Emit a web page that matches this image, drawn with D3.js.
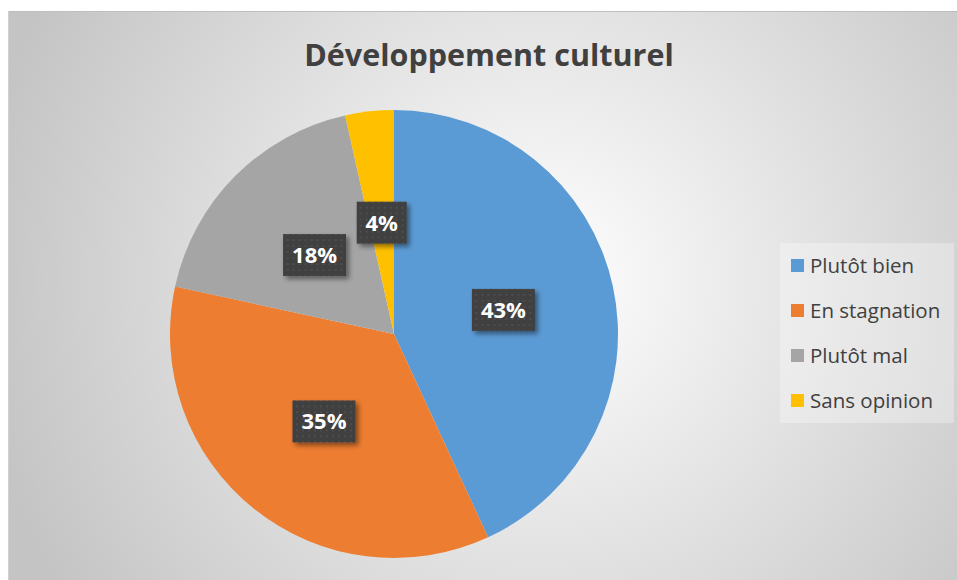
<!DOCTYPE html>
<html><head><meta charset="utf-8">
<script src="https://cdn.jsdelivr.net/npm/d3@7"></script>
<style>html,body{margin:0;padding:0;background:#fff;}svg{display:block;}</style>
</head><body>
<svg id="c" width="957" height="580"></svg>
<script>
const title = "Développement culturel";
const categories = ["Plutôt bien", "En stagnation", "Plutôt mal", "Sans opinion"];
const values = [43.1, 35.3, 18.1, 3.5];
const colors = ["#5B9BD5", "#ED7D31", "#A5A5A5", "#FFC000"];

const svg = d3.select("#c");
const defs = svg.append("defs");

const rg = defs.append("radialGradient").attr("id","bg")
  .attr("gradientUnits","userSpaceOnUse").attr("cx",540).attr("cy",280).attr("r",570);
rg.append("stop").attr("offset","0%").attr("stop-color","#ffffff");
rg.append("stop").attr("offset","100%").attr("stop-color","#c4c4c4");

const pat = defs.append("pattern").attr("id","dots").attr("patternUnits","userSpaceOnUse")
  .attr("width",6).attr("height",6);
pat.append("rect").attr("width",6).attr("height",6).attr("fill","#404040");
pat.append("rect").attr("x",2).attr("y",2).attr("width",2).attr("height",2).attr("fill","#4d4d4d");

const sh = defs.append("filter").attr("id","sh").attr("x","-30%").attr("y","-30%").attr("width","170%").attr("height","170%");
sh.append("feDropShadow").attr("dx",3).attr("dy",3).attr("stdDeviation",2.5)
  .attr("flood-color","#000").attr("flood-opacity",0.45);

// chart area
svg.append("rect").attr("x",8).attr("y",11).attr("width",949).attr("height",569)
  .attr("fill","url(#bg)");
svg.append("line").attr("x1",8).attr("x2",957).attr("y1",11.5).attr("y2",11.5)
  .attr("stroke","#bdbdbd").attr("stroke-width",1);
svg.append("line").attr("x1",8.5).attr("x2",8.5).attr("y1",11).attr("y2",580)
  .attr("stroke","#d0d0d0").attr("stroke-width",1);

svg.append("text").attr("x",489).attr("y",66).attr("text-anchor","middle")
  .attr("font-family","Open Sans, sans-serif").attr("font-weight","bold")
  .attr("font-size",30.5).attr("fill","#404040").text(title);

const cx = 394, cy = 334, R = 224;
const pie = d3.pie().sort(null).value(d => d)(values);
const arc = d3.arc().innerRadius(0).outerRadius(R);
const g = svg.append("g").attr("transform",`translate(${cx},${cy})`);
g.selectAll("path.s").data(pie).join("path").attr("class","s")
  .attr("d",arc).attr("fill",(d,i)=>colors[i]);

const total = d3.sum(values);
pie.forEach((d,i)=>{
  const [x,y] = arc.centroid(d);
  const txt = Math.round(d.data/total*100) + "%";
  const lg = g.append("g").attr("transform",`translate(${x},${y})`);
  const w = txt.length === 2 ? 50 : 63, h = 42;
  lg.append("rect").attr("x",-w/2).attr("y",-h/2).attr("width",w).attr("height",h)
    .attr("fill","url(#dots)").attr("filter","url(#sh)");
  lg.append("text").attr("text-anchor","middle").attr("dy","0.36em")
    .attr("font-family","Open Sans, sans-serif").attr("font-weight","bold")
    .attr("font-size",22).attr("fill","#ffffff").text(txt);
});

// legend
const lgd = svg.append("g");
lgd.append("rect").attr("x",780).attr("y",243).attr("width",174).attr("height",180)
  .attr("fill","#ffffff").attr("fill-opacity",0.3);
const ly = d3.scalePoint().domain(categories).range([266,401]);
categories.forEach((c,i)=>{
  lgd.append("rect").attr("x",791).attr("y",ly(c)-7).attr("width",13).attr("height",13)
    .attr("fill",colors[i]);
  lgd.append("text").attr("x",810).attr("y",ly(c)).attr("dy","0.35em")
    .attr("font-family","Open Sans, sans-serif").attr("font-size",20.5)
    .attr("fill","#404040").text(c);
});
</script>
</body></html>
